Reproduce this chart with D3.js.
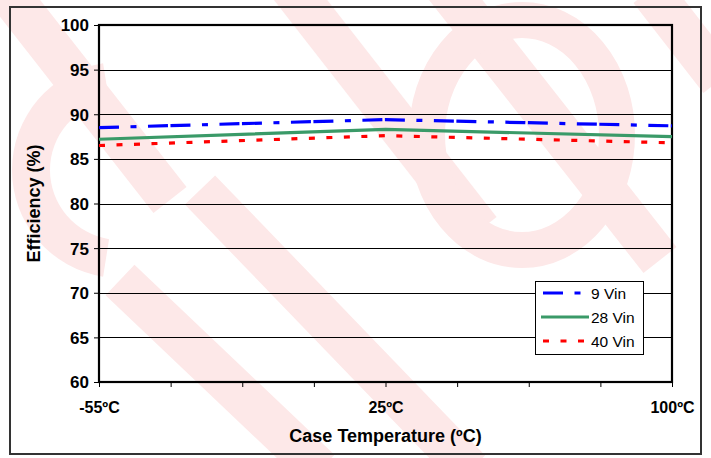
<!DOCTYPE html>
<html><head><meta charset="utf-8">
<script src="https://cdn.jsdelivr.net/npm/d3@7"></script>
<style>body{margin:0;background:#fff}svg{display:block}</style>
</head><body>
<svg id="c" width="711" height="458"></svg>
<script>
// ---- data ----
const tickLabels = ["-55ºC","","","","25ºC","","","","100ºC"];
const categories = ["-55ºC","25ºC","100ºC"];
const seriesNames = ["9 Vin","28 Vin","40 Vin"];
const vin9  = [88.5, 89.4, 88.7];
const vin28 = [87.2, 88.3, 87.5];
const vin40 = [86.5, 87.6, 86.8];
const yTicks = [60,65,70,75,80,85,90,95,100];

const svg = d3.select("#c");
const font = "'Liberation Sans', Arial, sans-serif";
const M = {left: 99, right: 672, top: 25, bottom: 382};

// ---- background watermark (decorative) ----
const pink = "#fde8e8";
const wm = svg.append("g").attr("fill","none").attr("stroke",pink);
const bands = [
  [[-10,-30],[170,200]],
  [[285,-20],[480,230]],
  [[440,-20],[660,260]],
  [[120,280],[320,470]],
  [[200,190],[470,470]],
  [[650,-10],[720,80]]
];
bands.forEach(b => wm.append("line").attr("x1",b[0][0]).attr("y1",b[0][1]).attr("x2",b[1][0]).attr("y2",b[1][1]).attr("stroke-width",42));
wm.append("ellipse").attr("cx",522).attr("cy",135).attr("rx",95).attr("ry",115).attr("stroke-width",36);
wm.append("path").attr("d", d3.arc()({innerRadius:70, outerRadius:108, startAngle:Math.PI*1.05, endAngle:Math.PI*1.95}))
  .attr("transform","translate(120,170)").attr("fill",pink).attr("stroke","none");

// ---- outer frame ----
svg.append("rect").attr("x",10).attr("y",7).attr("width",691).attr("height",447)
  .attr("fill","none").attr("stroke","#333").attr("stroke-width",2);

// ---- scales ----
const x = d3.scaleLinear().domain([0, tickLabels.length-1]).range([M.left, M.right]);
const y = d3.scaleLinear().domain([60,100]).range([M.bottom, M.top]);
const xPos = c => x(tickLabels.indexOf(c));

// gridlines
svg.append("g").selectAll("line").data(yTicks).join("line")
  .attr("x1",M.left).attr("x2",M.right)
  .attr("y1",d=>Math.round(y(d))+0.5).attr("y2",d=>Math.round(y(d))+0.5)
  .attr("stroke","#000").attr("stroke-width",1);

// axes
const yAxis = svg.append("g").attr("transform",`translate(${M.left},0)`)
  .call(d3.axisLeft(y).tickValues(yTicks).tickSize(5).tickPadding(5));
const xAxis = svg.append("g").attr("transform",`translate(0,${M.bottom})`)
  .call(d3.axisBottom(x).tickValues(d3.range(tickLabels.length)).tickFormat(i=>tickLabels[i]).tickSize(5).tickPadding(15));
[yAxis,xAxis].forEach(a=>{
  a.select(".domain").remove();
  a.selectAll(".tick line").attr("stroke","#000").attr("stroke-width",1);
  a.selectAll("text").attr("font-family",font).attr("font-weight","bold").attr("fill","#000");
});
yAxis.selectAll("text").attr("font-size",17).attr("dy","0.35em");
xAxis.selectAll("text").attr("font-size",16);

// plot border
svg.append("rect").attr("x",M.left).attr("y",M.top).attr("width",M.right-M.left).attr("height",M.bottom-M.top)
  .attr("fill","none").attr("stroke","#000").attr("stroke-width",2.2);

// ---- series ----
const styles = [
  {color:"#0000ff", dash:"20,2.5,20,11.5,6,11.5", offset:22.5},
  {color:"#3a9a68", dash:null, offset:0},
  {color:"#ff0000", dash:"6,11.5", offset:0}
];
const seriesVals = [vin9, vin28, vin40];
const line = d3.line().x((d,i)=>xPos(categories[i])).y(d=>y(d));
seriesVals.forEach((vals,k)=>{
  const p = svg.append("path").datum(vals).attr("d",line)
    .attr("fill","none").attr("stroke",styles[k].color).attr("stroke-width",3.2);
  if(styles[k].dash) p.attr("stroke-dasharray",styles[k].dash).attr("stroke-dashoffset",styles[k].offset);
});

// ---- legend ----
const lg = svg.append("g");
lg.append("rect").attr("x",535.5).attr("y",281.5).attr("width",108).attr("height",73)
  .attr("fill","#fff").attr("stroke","#000").attr("stroke-width",1);
seriesNames.forEach((n,k)=>{
  const cy = 293 + k*24;
  const l = lg.append("line").attr("x1", k===1?541:543).attr("x2",589).attr("y1",cy).attr("y2",cy)
    .attr("stroke",styles[k].color).attr("stroke-width",3.2);
  if(styles[k].dash) l.attr("stroke-dasharray",styles[k].dash).attr("stroke-dashoffset",styles[k].offset);
  lg.append("text").attr("x",591).attr("y",cy).attr("dy","0.36em").text(n)
    .attr("font-family",font).attr("font-size",15.5).attr("fill","#000");
});

// ---- titles ----
svg.append("text").attr("x",(M.left+M.right)/2).attr("y",442).attr("text-anchor","middle")
  .attr("font-family",font).attr("font-weight","bold").attr("font-size",18).text("Case Temperature (ºC)");
svg.append("text").attr("transform",`translate(40,${(M.top+M.bottom)/2 + 0}) rotate(-90)`).attr("text-anchor","middle")
  .attr("font-family",font).attr("font-weight","bold").attr("font-size",18).text("Efficiency (%)");
</script>
</body></html>
